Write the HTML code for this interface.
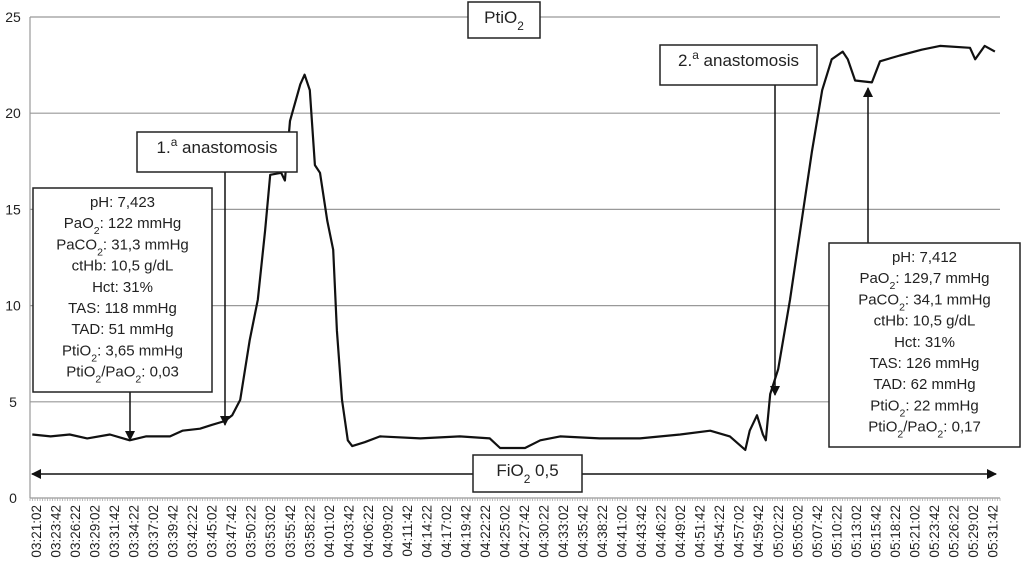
<!DOCTYPE html>
<html><head><meta charset="utf-8"><style>
body{margin:0;background:#fff}
svg text{font-family:"Liberation Sans",Arial,sans-serif;fill:#222}
</style></head><body>
<svg id="c" width="1024" height="571" xmlns="http://www.w3.org/2000/svg">
<defs><marker id="ah" markerWidth="10" markerHeight="10" refX="9" refY="5" orient="auto" markerUnits="userSpaceOnUse"><path d="M0,0 L10,5 L0,10 z" fill="#111"/></marker></defs>
<g id="grid"></g><g id="xt"></g><g id="line"></g>
<g id="ann" font-size="15"></g>
</svg>
<script>
const yTicks=[0,5,10,15,20,25];
const xMinutes=[-0.5,2,4.6,7,10.1,12.8,15,18.3,20,22.4,24,25.8,26.8,27.9,29.2,30.3,31.3,32.0,33.5,34.0,34.7,36.1,36.7,37.4,38.1,38.8,39.8,40.6,41.1,41.8,42.6,43.2,44.9,47.0,52.5,57.9,62,63.4,66.8,68.9,71.6,77,82.5,88,92.1,94.8,96.9,97.5,98.5,99.3,99.7,100.3,101.4,103,104.4,106,107.4,108.7,110.2,110.9,111.9,114.2,115.3,118,121,123.5,127.6,128.3,129.6,131];
const values=[3.3,3.2,3.3,3.1,3.3,3.0,3.2,3.2,3.5,3.6,3.8,4.0,4.3,5.1,8.2,10.3,13.9,16.8,16.9,16.5,19.6,21.5,22.0,21.2,17.3,16.9,14.4,12.9,8.7,5.1,3.0,2.7,2.9,3.2,3.1,3.2,3.1,2.6,2.6,3.0,3.2,3.1,3.1,3.3,3.5,3.2,2.5,3.5,4.3,3.3,3.0,5.4,6.7,10.3,13.9,18.0,21.2,22.8,23.2,22.8,21.7,21.6,22.7,23.0,23.3,23.5,23.4,22.8,23.5,23.2];
const xLabelStartSec=3*3600+21*60+2, xLabelStepSec=160, xLabelCount=50;
const NS="http://www.w3.org/2000/svg";
const X0=30,X1=1000,Y0=498,Y25=17;
const xs=t=>36+t*7.32;
const ys=v=>Y0-(v/25)*(Y0-Y25);
function mk(tag,attrs,parent){const e=document.createElementNS(NS,tag);for(const k in attrs)e.setAttribute(k,attrs[k]);parent.appendChild(e);return e;}
const g=document.getElementById('grid');
yTicks.forEach(v=>{
 const l=mk('line',{x1:X0,x2:X1,y1:ys(v),y2:ys(v),stroke:'#999','stroke-width':1.2},g);
 
 
 const t=mk('text',{x:13,y:ys(v)+5,'text-anchor':'middle','font-size':14},g);t.textContent=v;
 
 
});
mk('line',{x1:X0,x2:X0,y1:Y25,y2:Y0,stroke:'#999','stroke-width':1.2},g);
const xt=document.getElementById('xt');
for(let i=0;i<xLabelCount;i++){
 const s=xLabelStartSec+i*xLabelStepSec;
 const lbl=[Math.floor(s/3600),Math.floor(s%3600/60),s%60].map(n=>String(n).padStart(2,'0')).join(':');
 const x=xs(i*xLabelStepSec/60)+5;
 const t=mk('text',{transform:`translate(${x},505) rotate(-90)`,'text-anchor':'end','font-size':13.5},xt);t.textContent=lbl;
 
 
}
for(let x=X0;x<=X1;x+=2.5)mk('line',{x1:x,x2:x,y1:Y0,y2:Y0+3,stroke:'#aaa','stroke-width':0.8},xt);
const p=mk('path',{d:xMinutes.map((t,i)=>(i?'L':'M')+xs(t).toFixed(1)+','+ys(values[i]).toFixed(1)).join(''),fill:'none',stroke:'#111','stroke-width':2.2,'stroke-linejoin':'round'},document.getElementById('line'));


const a=document.getElementById('ann');
function box(x,y,w,h,lines,name,fs,lh){
 const r=mk('rect',{x,y,width:w,height:h,fill:'#fff',stroke:'#222','stroke-width':1.5},a);
 
 
 lines.forEach((ln,i)=>{const t=mk('text',{x:x+w/2,y:y+fs+4+i*lh,'text-anchor':'middle','font-size':fs},a);t.innerHTML=ln;});
}
function arrow(x1,y1,x2,y2){mk('line',{x1,y1,x2,y2,stroke:'#111','stroke-width':1.5,'marker-end':'url(#ah)'},a);}
const sub='<tspan font-size="70%" baseline-shift="sub">2</tspan>';
const sup='<tspan font-size="70%" baseline-shift="super">a</tspan>';
box(468,2,72,36,['PtiO'+sub],'chart-title-box',17,0);
arrow(225,172,225,425);
box(137,132,160,40,['1.'+sup+' anastomosis'],'first-anastomosis-label',17,0);
arrow(130,392,130,440);
box(33,188,179,204,['pH: 7,423','PaO'+sub+': 122 mmHg','PaCO'+sub+': 31,3 mmHg','ctHb: 10,5 g/dL','Hct: 31%','TAS: 118 mmHg','TAD: 51 mmHg','PtiO'+sub+': 3,65 mmHg','PtiO'+sub+'/PaO'+sub+': 0,03'],'baseline-gas-box',15,21.2);
arrow(775,85,775,395);
box(660,45,157,40,['2.'+sup+' anastomosis'],'second-anastomosis-label',17,0);
arrow(868,243,868,88);
box(829,243,191,204,['pH: 7,412','PaO'+sub+': 129,7 mmHg','PaCO'+sub+': 34,1 mmHg','ctHb: 10,5 g/dL','Hct: 31%','TAS: 126 mmHg','TAD: 62 mmHg','PtiO'+sub+': 22 mmHg','PtiO'+sub+'/PaO'+sub+': 0,17'],'final-gas-box',15,21.2);
arrow(473,474,32,474);arrow(582,474,996,474);
box(473,455,109,37,['FiO'+sub+' 0,5'],'fio2-label',17,0);
</script>
</body></html>
